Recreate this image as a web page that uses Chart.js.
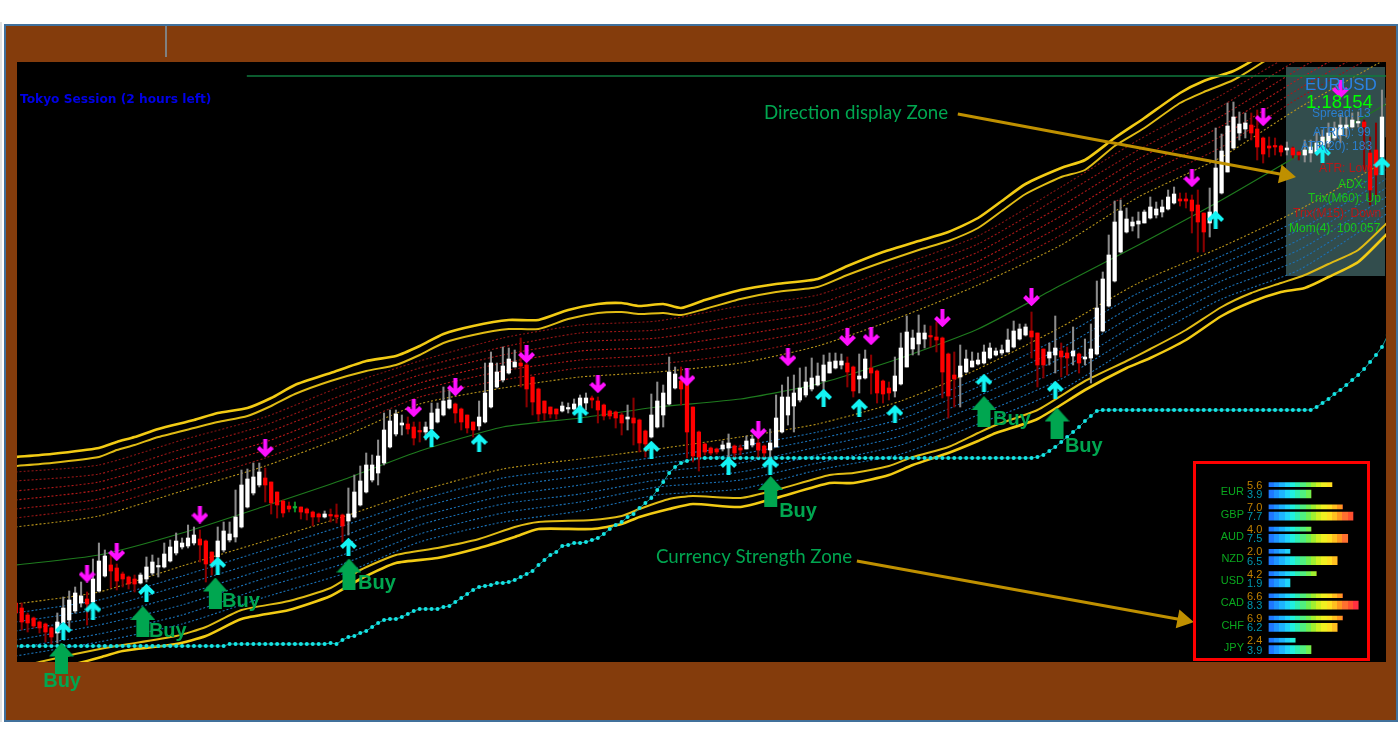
<!DOCTYPE html>
<html>
<head>
<meta charset="utf-8">
<title>EURUSD</title>
<script src="https://cdn.jsdelivr.net/npm/chart.js@4"></script>
<style>
html, body { margin: 0; padding: 0; background: #fff; width: 1400px; height: 750px; overflow: hidden; }
#edge { position: absolute; left: 0; top: 22px; width: 2px; height: 700px; background: #e2e2e2; }
#frame { position: absolute; left: 4px; top: 24px; width: 1390px; height: 694px; background: #843c0c; border: 2px solid #41719c; }
#tick { position: absolute; left: 165px; top: 26px; width: 2px; height: 31px; background: #808080; }
#grafic { position: absolute; left: 0; top: 0; }
#strengthBox { position: absolute; left: 1193px; top: 461px; width: 171px; height: 194px; border: 3px solid #f00; background: #000; }
#strength { position: absolute; left: 0; top: 0; }
</style>
</head>
<body>
<div id="edge"></div>
<div id="frame"></div>
<div id="tick"></div>
<canvas id="grafic" width="1400" height="750"></canvas>
<div id="strengthBox"><canvas id="strength" width="171" height="194"></canvas></div>
<script>
// candles, one per bar, in points above 1.1300
const opens = [
  59,54,47,44,40,38,34,29,39,42, 51,59,63,60,71,86,97,94,88,85,
  83,79,83,89,95,95,101,109,115,116, 119,123,121,110,105,112,122,125,135,155,
  169,177,184,180,170,161,156,154,155,153, 150,148,145,147,147,147,141,145,157,170,
  182,189,199,215,228,237,238,235,231,230, 233,240,247,254,258,253,247,240,236,240,
  255,275,282,289,295,299,297,285,273,261, 255,253,251,253,253,255,259,264,261,257,
  251,250,247,243,244,242,231,225,235,247, 258,274,281,279,255,230,218,214,213,213,
  214,216,214,213,217,219,216,212,215,230, 247,256,262,267,273,277,281,289,294,297,
  299,295,283,284,294,291,281,274,271,278, 295,313,318,323,326,325,324,308,287,285,
  290,295,298,299,304,307,309,310,315,323, 327,331,329,313,304,307,311,309,306,308,
  303,304,308,331,356,381,410,430,436,438, 439,444,447,450,453,459,463,463,462,457,
  449,439,444,469,490,514,529,533,537,533, 524,516,516,516,512,514,510,507,509,510,
  517,519,524,527,534,535,539,540,509,512, 505,525
];
const closes = [
  49,40,39,36,34,30,25,40,54,62, 69,66,58,83,101,106,91,81,83,78,
  78,87,95,100,96,108,115,121,119,124, 127,117,98,99,121,131,128,145,177,183,
  185,190,177,159,157,149,153,154,150,149, 145,145,148,146,145,136,148,170,181,197,
  197,206,232,241,248,239,233,224,230,235, 249,253,261,262,249,240,234,232,245,269,
  299,290,296,303,300,296,273,260,248,249, 248,248,256,254,258,264,264,262,252,246,
  246,244,239,245,239,219,218,247,261,269, 290,288,273,230,206,205,210,209,210,217,
  219,209,212,221,223,212,209,219,244,265, 265,269,274,280,284,286,297,300,301,301,
  290,271,286,303,289,269,268,269,286,314, 330,324,329,329,325,322,290,266,283,296,
  303,301,302,310,314,311,312,322,331,333, 335,325,297,297,310,314,305,304,311,299,
  305,313,354,383,407,440,451,443,440,441, 450,455,453,455,465,468,461,461,451,440,
  430,450,494,511,536,545,538,539,529,515, 508,514,515,510,514,507,507,512,515,519,
  525,529,534,537,537,542,540,535,472,487, 545,564
];
const highs = [
  62,59,49,45,41,39,35,49,65,71, 75,80,70,103,119,112,109,98,90,86,
  87,89,105,107,104,119,122,129,124,137, 135,132,122,110,135,140,140,172,192,193,
  199,199,194,180,170,162,160,160,155,154, 151,149,151,153,158,148,174,187,196,209,
  207,222,249,252,252,247,245,240,240,240, 259,259,275,272,259,254,247,240,261,299,
  310,299,315,314,312,324,299,285,274,261, 255,253,260,259,263,267,269,266,265,258,
  252,251,249,257,264,243,232,268,280,277, 305,295,295,292,255,231,219,215,214,221,
  228,217,217,226,227,229,217,233,267,277, 285,287,294,295,304,299,307,309,309,308,
  305,296,308,312,307,292,282,280,305,329, 346,332,347,337,336,340,325,309,310,317,
  312,310,309,317,319,314,317,333,341,338, 338,350,329,313,319,346,319,315,335,309,
  323,338,381,390,427,461,462,454,445,450, 452,465,460,462,472,475,469,469,467,472,
  449,474,534,528,559,560,550,549,549,552, 525,525,524,517,520,515,511,522,522,530,
  532,539,540,547,545,549,550,542,525,539, 572,572
];
const lows = [
  44,32,30,34,29,20,18,19,30,34, 49,55,37,55,70,85,74,72,75,73,
  70,78,80,87,85,94,100,107,113,114, 117,100,80,87,89,110,120,120,134,154,
  167,175,160,148,144,145,150,150,143,142, 136,140,144,140,139,120,127,144,156,169,
  180,177,197,214,226,227,228,217,220,222, 217,239,246,253,239,232,229,225,232,239,
  254,274,280,288,295,275,255,247,241,242, 244,243,250,249,252,254,252,254,239,242,
  243,234,227,232,217,210,205,224,234,235, 257,273,257,204,200,191,207,207,208,211,
  205,205,207,213,215,205,205,202,215,229, 237,230,260,265,271,276,272,289,293,293,
  275,265,269,283,268,259,259,262,265,277, 295,307,307,314,315,310,264,244,255,255,
  289,295,297,298,303,306,307,310,314,322, 326,304,275,284,297,289,285,287,297,289,
  297,279,307,330,355,380,409,429,431,424, 439,443,444,445,452,458,456,454,429,410,
  410,425,442,468,490,513,522,524,522,502, 499,505,507,506,507,504,502,500,500,509,
  514,515,522,519,525,534,535,492,457,465, 504,522
];

// trailing stop dots, one per bar
const stopDots = [
  16,16,16,16,16,16,16,16,16,16,16,16,16,16,16,16,16,16,16,16,16,16,16,16,16,16,16,16,16,16,16,16,16,16,16,16,
  18,18,18,18,18,18,18,18,18,18,18,18,18,18,18,18,18,
  19,18,22,25,26,29,31,35,39,42,43,43,45,48,51,53,53,53,53,55,56,60,64,68,72,75,76,77,79,79,
  80,82,85,88,91,97,102,107,110,116,117,119,119,120,122,124,128,133,137,140,145,148,154,159,164,172,180,189,195,199,201,203,204,
  204,204,204,204,204,204,204,204,204,204,204,204,204,204,204,204,204,204,204,204,204,204,204,204,204,204,204,204,
  204,204,204,204,204,204,204,204,204,204,204,204,204,204,204,204,204,204,204,204,204,204,204,204,204,204,204,204,
  205,207,211,215,220,225,230,235,241,246,251,252,
  252,252,252,252,252,252,252,252,252,252,252,252,252,252,252,252,252,252,252,252,252,252,252,252,252,252,252,252,252,252,252,252,252,252,252,
  255,259,263,268,272,277,282,287,293,300,307,315,327
];

// envelope lines, read at these bars
const bandBars = [0,14,28,42,55,68,82,95,108,122,135,149,162,176,189,203,216,231];
const red1 = [190,197,222,245,276,301,324,337,341,356,367,397,426,475,522,567,612,662];
const red2 = [181,188,213,237,267,294,315,329,332,346,358,389,418,466,512,556,603,652];
const red3 = [171,180,205,229,259,287,307,320,324,337,350,380,410,456,503,546,593,643];
const red4 = [162,172,196,220,250,279,299,311,315,327,341,371,401,446,493,536,583,633];
const red5 = [153,163,188,212,242,272,291,302,307,318,333,363,393,436,484,526,573,623];
const red6 = [144,155,179,204,233,265,282,294,298,308,324,354,385,427,474,515,564,614];
const goldUp = [135,146,171,196,225,258,274,285,290,299,316,345,377,417,465,505,554,604];
const midLine = [97,107,129,156,182,211,235,244,255,263,278,304,333,377,417,462,507,559];
const goldDown = [58,70,96,121,145,171,193,203,213,225,238,261,293,335,379,415,452,502];
const blue1 = [49,62,86,112,136,162,184,194,205,216,230,252,284,325,369,406,442,493];
const blue2 = [40,53,77,102,126,154,175,186,198,208,223,243,275,314,359,398,432,484];
const blue3 = [31,45,67,93,117,145,166,177,190,199,215,234,266,304,349,389,422,475];
const blue4 = [22,37,57,84,107,137,158,168,182,190,207,226,257,293,339,381,412,466];
const blue5 = [14,28,47,75,98,128,149,160,175,182,199,217,247,283,329,372,402,457];
const blue6 = [6,20,38,65,88,120,140,151,167,173,192,208,238,272,319,363,392,449];

const upperBars = [0,6,14,17,20,24,30,34,39,43,47,53,59,64,68,72,77,83,88,93,98,102,105,109,112,116,122,128,135,140,146,152,157,162,166,170,176,180,185,190,196,200,205,210,216,231];
const upperOuter = [205,208,214,220,225,233,242,249,254,264,277,289,301,306,316,328,336,342,342,352,358,359,356,358,354,362,372,378,383,396,410,421,430,444,461,478,494,502,524,544,569,581,591,608,632,672];
const upperInner = [196,199,205,212,217,225,234,240,246,256,268,281,291,297,307,319,327,333,333,343,349,350,348,349,347,353,363,370,375,387,400,412,421,434,451,468,485,492,516,534,559,570,582,600,624,662];

const lowerBars = [0,4,10,15,18,27,32,38,46,53,58,64,71,78,84,88,97,102,105,110,114,122,128,137,141,147,151,157,162,165,172,180,187,191,197,203,208,213,217,221,226,231];
const lowerInner = [-6,0,8,14,17,26,35,52,61,74,92,107,114,123,135,140,142,146,153,163,166,164,172,187,189,196,205,215,229,237,252,281,301,313,332,355,369,379,387,398,412,440];
const lowerOuter = [-20,-10,-2,6,11,18,26,43,52,66,83,99,104,114,125,133,133,138,145,153,158,155,164,179,179,187,197,209,221,229,243,272,294,304,322,346,360,370,374,385,400,429];

// signals
const upBars = [8,13,22,34,56,70,78,95,107,120,127,136,142,148,163,175,202,220,230];
const upPrices = [31,51.5,69,96,115,224,219,248,212,196,196,264,254,248,279,272,442,508,496];
const downBars = [12,17,31,42,67,74,86,98,113,125,130,140,144,156,171,198,210,223];
const downPrices = [88.5,110,147.5,214,254,275,308,278,285,232,305,325,326,344,365,484,545,573];
const buyBars = [7.7,21.4,33.6,56.1,127.1,163,175.3];
const buyPrices = [4,40.5,69,88,170.5,250.5,239];
const buyTextBars = [7.8,25.6,37.9,60.8,131.7,167.7,179.8];
const buyTextPrices = [-19,31,61,79,151,243,216];

// session line and the two callout arrows
const sessionBars = [38.9,231];
const sessionPrices = [586,586];
const calloutABars = [158.6,213.7];
const calloutAPrices = [548,487];
const calloutBBars = [141.6,196.5];
const calloutBPrices = [101,42];

// currency strength
const currencies = ['EUR','GBP','AUD','NZD','USD','CAD','CHF','JPY'];
const slowValues = ['5.6','7.0','4.0','2.0','4.2','6.6','6.9','2.4'];
const fastValues = ['3.9','7.7','7.5','6.5','1.9','8.3','6.2','3.9'];
const slowBlocks = [12,14,8,4,9,14,14,5];
const fastBlocks = [8,16,15,13,4,17,13,8];
const blockColors = ['#1e78ff','#1e96ff','#1eb4ff','#20d4fa','#20f0e0','#30f0b0','#50f080','#70f050','#a0f030','#d0f020','#f0f020','#ffe020','#ffc020','#ff9820','#ff7030','#ff5030','#ff3040'];

// info panel
const panelLines = [
  ['EURUSD', 1305, 85, '17px', '#2a82e4'],
  ['1.18154', 1306, 103, '18.5px', '#00ff00'],
  ['Spread: 13', 1312, 114, '12px', '#2a7fd0'],
  ['ATR(1): 99', 1313, 133, '12px', '#2a7fd0'],
  ['ATR(20): 183', 1301, 147, '12px', '#2a7fd0'],
  ['ATR: Low', 1319, 169, '12px', '#b81818'],
  ['ADX:', 1338, 185, '12px', '#18c818'],
  ['Trix(M60): Up', 1308, 199, '12px', '#18c818'],
  ['Trix(M15): Down', 1293, 214, '12px', '#b81818'],
  ['Mom(4): 100.057', 1289, 229, '12px', '#18c818']
];

function arrowCanvas(color, dir) {
  const c = document.createElement('canvas');
  c.width = 17; c.height = 18;
  const g = c.getContext('2d');
  if (dir < 0) { g.translate(0, 18); g.scale(1, -1); }
  g.strokeStyle = color;
  g.lineWidth = 4;
  g.beginPath();
  g.moveTo(8.5, 18); g.lineTo(8.5, 3);
  g.moveTo(1.5, 9.5); g.lineTo(8.5, 2.5); g.lineTo(15.5, 9.5);
  g.stroke();
  return c;
}

function buyCanvas() {
  const c = document.createElement('canvas');
  c.width = 25; c.height = 31;
  const g = c.getContext('2d');
  g.fillStyle = '#00a650';
  g.beginPath();
  g.moveTo(12.5, 0); g.lineTo(25, 14); g.lineTo(19, 14); g.lineTo(19, 31);
  g.lineTo(6, 31); g.lineTo(6, 14); g.lineTo(0, 14);
  g.closePath();
  g.fill();
  return c;
}

function parells(xs, ys) {
  return xs.map((x, i) => ({ x: x, y: ys[i] }));
}

function linia(xs, ys, color, width, dash, order, tension) {
  return {
    type: 'line', data: parells(xs, ys), borderColor: color, borderWidth: width,
    borderDash: dash, pointRadius: 0, tension: tension || 0, order: order
  };
}

function senyals(xs, ys, image) {
  return {
    type: 'scatter', data: parells(xs, ys), pointStyle: image, pointRadius: 8,
    clip: false, order: 1
  };
}

function fletxa(xs, ys) {
  return {
    type: 'line', data: parells(xs, ys), borderColor: '#bf9000', borderWidth: 3,
    pointStyle: 'triangle', pointRadius: [0, 8], pointRotation: 101,
    pointBackgroundColor: '#bf9000', pointBorderColor: '#bf9000', clip: false, order: 0
  };
}

const bars = opens.map((o, i) => i);

const candleColor = i => closes[i] === opens[i] ? '#12b030' : (closes[i] > opens[i] ? '#ffffff' : '#ff0000');
const wickColor = i => closes[i] === opens[i] ? '#0e8a26' : (closes[i] > opens[i] ? '#8c8c8c' : '#8a0000');

const dots = [2, 2];
const datasets = [
  linia(bandBars, red1, '#861414', 1.1, dots, 9, 0.2),
  linia(bandBars, red2, '#981616', 1.1, dots, 9, 0.2),
  linia(bandBars, red3, '#ac1818', 1.1, dots, 9, 0.2),
  linia(bandBars, red4, '#bc1a1a', 1.1, dots, 9, 0.2),
  linia(bandBars, red5, '#ac1818', 1.1, dots, 9, 0.2),
  linia(bandBars, red6, '#981616', 1.1, dots, 9, 0.2),
  linia(bandBars, goldUp, '#b8941a', 1.1, dots, 9, 0.2),
  linia(bandBars, midLine, '#1e7a1e', 1.2, [], 9, 0.2),
  linia(bandBars, goldDown, '#b8941a', 1.1, dots, 9, 0.2),
  linia(bandBars, blue1, '#1a70b4', 1.1, dots, 9, 0.2),
  linia(bandBars, blue2, '#1a70b4', 1.1, dots, 9, 0.2),
  linia(bandBars, blue3, '#1a70b4', 1.1, dots, 9, 0.2),
  linia(bandBars, blue4, '#1a70b4', 1.1, dots, 9, 0.2),
  linia(bandBars, blue5, '#1a70b4', 1.1, dots, 9, 0.2),
  linia(bandBars, blue6, '#1a70b4', 1.1, dots, 9, 0.2),
  linia(upperBars, upperOuter, '#f2cb14', 2.6, [], 8, 0.2),
  linia(upperBars, upperInner, '#e0bb14', 2, [], 8, 0.2),
  linia(lowerBars, lowerInner, '#e0bb14', 2, [], 8, 0.2),
  linia(lowerBars, lowerOuter, '#f2cb14', 2.6, [], 8, 0.2),
  linia(sessionBars, sessionPrices, '#0f7a3e', 1.5, [], 7),
  {
    type: 'line', data: parells(bars, stopDots), borderColor: '#109c9c', borderWidth: 1,
    pointRadius: 2, pointBackgroundColor: '#16e4e4', pointBorderWidth: 0, tension: 0, order: 6
  },
  {
    type: 'bar', data: bars.map(i => ({ x: i, y: [lows[i], highs[i]] })),
    backgroundColor: c => wickColor(c.dataIndex), barThickness: 1.4, grouped: false, order: 5
  },
  {
    type: 'bar', data: bars.map(i => ({ x: i, y: [opens[i], closes[i]] })),
    backgroundColor: c => candleColor(c.dataIndex), barThickness: 3.6, minBarLength: 1.5, grouped: false, order: 4
  },
  senyals(buyBars, buyPrices, buyCanvas()),
  senyals(upBars, upPrices, arrowCanvas('#14f4f4', 1)),
  senyals(downBars, downPrices, arrowCanvas('#ff10ff', -1)),
  fletxa(calloutABars, calloutAPrices),
  fletxa(calloutBBars, calloutBPrices)
];

const taula = {
  id: 'taula',
  beforeDatasetsDraw(chart) {
    const { ctx, chartArea: a } = chart;
    ctx.save();
    ctx.fillStyle = '#000';
    ctx.fillRect(a.left, a.top, a.right - a.left, a.bottom - a.top);
    ctx.fillStyle = 'rgba(110,170,170,0.45)';
    ctx.fillRect(1286, 67, 99, 209);
    ctx.restore();
  },
  afterDatasetsDraw(chart) {
    const { ctx, scales } = chart;
    ctx.save();
    ctx.textBaseline = 'middle';
    ctx.textAlign = 'left';

    ctx.font = 'bold 12.2px "DejaVu Sans"';
    ctx.fillStyle = '#0000e6';
    ctx.fillText('Tokyo Session (2 hours left)', 20, 99.5);

    ctx.font = '18.7px Lato';
    ctx.fillStyle = '#00a650';
    ctx.fillText('Direction display Zone', 764, 113);
    ctx.fillText('Currency Strength Zone', 656, 557);

    ctx.font = 'bold 20px "Liberation Sans"';
    ctx.textAlign = 'center';
    buyTextBars.forEach((b, i) => {
      ctx.fillText('Buy', scales.x.getPixelForValue(b), scales.y.getPixelForValue(buyTextPrices[i]));
    });

    ctx.textAlign = 'left';
    panelLines.forEach(l => {
      ctx.font = l[3] + ' "Liberation Sans"';
      ctx.fillStyle = l[4];
      ctx.fillText(l[0], l[1], l[2]);
    });
    ctx.restore();
  }
};

new Chart(document.getElementById('grafic'), {
  type: 'bar',
  data: { datasets: datasets },
  options: {
    responsive: false,
    animation: false,
    events: [],
    layout: { padding: { left: 17, top: 62, right: 14, bottom: 88 } },
    plugins: { legend: { display: false }, tooltip: { enabled: false } },
    scales: {
      x: { type: 'linear', min: 0.209, max: 230.68, offset: false, display: false },
      y: { type: 'linear', min: 0, max: 600, display: false }
    }
  },
  plugins: [taula]
});

// strength panel, second small chart
const rowGap = 0.21;

function gradient(context) {
  const chart = context.chart;
  if (!chart.chartArea) {
    return blockColors[0];
  }
  const x0 = chart.scales.x.getPixelForValue(0);
  const x1 = chart.scales.x.getPixelForValue(blockColors.length);
  const g = chart.ctx.createLinearGradient(x0, 0, x1, 0);
  blockColors.forEach((c, i) => {
    g.addColorStop(i / blockColors.length, c);
    g.addColorStop((i + 1) / blockColors.length, c);
  });
  return g;
}

const etiquetes = {
  id: 'etiquetes',
  afterDatasetsDraw(chart) {
    const { ctx, scales } = chart;
    ctx.save();
    ctx.textBaseline = 'middle';
    ctx.font = '11px "Liberation Sans"';
    currencies.forEach((name, i) => {
      ctx.textAlign = 'right';
      ctx.fillStyle = '#0aa81e';
      ctx.fillText(name, 48, scales.y.getPixelForValue(i) + 3);
      ctx.textAlign = 'left';
      ctx.fillStyle = '#c08000';
      ctx.fillText(slowValues[i], 51, scales.y.getPixelForValue(i - rowGap) + 1);
      ctx.fillStyle = '#0096ae';
      ctx.fillText(fastValues[i], 51, scales.y.getPixelForValue(i + rowGap) + 1);
    });
    ctx.restore();
  }
};

new Chart(document.getElementById('strength'), {
  type: 'bar',
  data: {
    datasets: [
      { data: parells(slowBlocks, currencies.map((n, i) => i - rowGap)), backgroundColor: gradient, barThickness: 4, grouped: false },
      { data: parells(fastBlocks, currencies.map((n, i) => i + rowGap)), backgroundColor: gradient, barThickness: 8, grouped: false }
    ]
  },
  options: {
    indexAxis: 'y',
    responsive: false,
    animation: false,
    events: [],
    plugins: { legend: { display: false }, tooltip: { enabled: false } },
    scales: {
      x: { type: 'linear', min: -13.9, max: 18.67, display: false },
      y: { type: 'linear', min: -1.138, max: 7.589, reverse: true, offset: false, display: false }
    }
  },
  plugins: [etiquetes]
});
</script>
</body>
</html>
